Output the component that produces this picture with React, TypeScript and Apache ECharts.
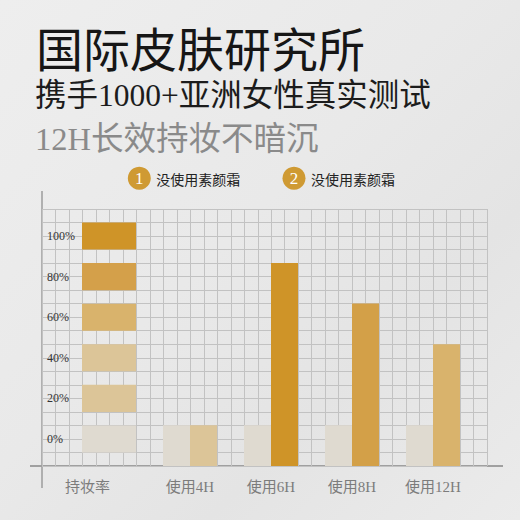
import React, { useEffect, useRef } from 'react';
import * as echarts from 'echarts';

// ---------- data ----------
const categories = ['持妆率', '使用4H', '使用6H', '使用8H', '使用12H'];
// percent values (0% level label reads as the middle of the bottom block)
const noCreamValues: (number | null)[] = [null, 6.7, 6.7, 6.7, 6.7];
const creamValues: (number | null)[] = [null, 6.7, 86.7, 66.7, 46.7];
const scaleLevels = [0, 20, 40, 60, 80, 100];
const legendNames = ['没使用素颜霜', '没使用素颜霜'];
const legendMarks = ['1', '2'];
const titleLines = ['国际皮肤研究所', '携手1000+亚洲女性真实测试', '12H长效持妆不暗沉'];

// ---------- styles ----------
const scaleColors = ['#DFDAD0', '#DCC598', '#DCC598', '#D9B36C', '#D4A04A', '#CF9428'];
const noCreamColor = '#DFDAD0';
const creamColors = ['#DCC598', '#DCC598', '#CF9428', '#D3A048', '#D9B36C'];
const CJK = "'Noto Sans CJK SC', sans-serif";
const SERIF = "'Liberation Serif', 'Noto Sans CJK SC', serif";

// one paper cell = 20/3 percent, 0% sits two cells above the baseline
const toCell = (p: number) => (p * 3) / 20 + 2;

export default function App() {
  const ref = useRef<HTMLDivElement>(null);

  useEffect(() => {
    if (!ref.current) return;
    const chart = echarts.init(ref.current, undefined, { renderer: 'svg' });

    const option: any = {
      animation: false,
      backgroundColor: 'transparent',
      grid: [
        { left: 42, right: 33, top: 209, bottom: 54 },
        { left: 68.5, width: 405, top: 209, bottom: 54 },
      ],
      xAxis: [
        {
          gridIndex: 0,
          type: 'value',
          min: 0,
          max: 33,
          interval: 1,
          axisLine: { show: false },
          axisTick: { show: false },
          axisLabel: { show: false },
          splitLine: { show: true, lineStyle: { color: '#c2c2c2', width: 1 } },
        },
        {
          gridIndex: 1,
          type: 'category',
          data: categories.map((c, i) =>
            i === 0 ? { value: c, textStyle: { padding: [0, 43, 0, 0] } } : c
          ),
          axisLine: { show: false },
          axisTick: { show: false },
          axisLabel: { color: '#7c7c7c', fontSize: 15, fontFamily: SERIF, margin: 13 },
        },
      ],
      yAxis: [
        {
          gridIndex: 0,
          type: 'value',
          min: 0,
          max: 19,
          interval: 1,
          axisLine: { show: false },
          axisTick: { show: false },
          axisLabel: {
            inside: true,
            margin: 5,
            color: '#333',
            fontSize: 12,
            fontFamily: SERIF,
            formatter: (v: number) => {
              const p = Math.round(((v - 2) * 20) / 3);
              return v >= 2 && Math.round(v - 2) % 3 === 0 && scaleLevels.includes(p) ? p + '%' : '';
            },
          },
          splitLine: { show: true, lineStyle: { color: '#c2c2c2', width: 1 } },
        },
        {
          gridIndex: 1,
          type: 'value',
          min: 0,
          max: 19,
          show: false,
        },
      ],
      series: [
        {
          type: 'custom',
          name: '持妆率',
          xAxisIndex: 1,
          yAxisIndex: 1,
          data: scaleLevels.map((l) => [0, toCell(l) - 1, toCell(l) + 1]),
          encode: { x: 0, y: [1, 2] },
          renderItem: (params: any, api: any) => {
            const lo = api.coord([api.value(0), api.value(1)]);
            const hi = api.coord([api.value(0), api.value(2)]);
            const bw = (api.size([1, 0])[0] * 2) / 3;
            return {
              type: 'rect',
              shape: { x: lo[0] - bw / 2, y: hi[1], width: bw, height: lo[1] - hi[1] },
              style: { fill: scaleColors[params.dataIndex] },
            };
          },
        },
        {
          type: 'bar',
          name: legendNames[0],
          xAxisIndex: 1,
          yAxisIndex: 1,
          barWidth: 27,
          barGap: '0%',
          itemStyle: { color: noCreamColor },
          data: noCreamValues.map((v) => (v == null ? '-' : toCell(v))),
        },
        {
          type: 'bar',
          name: legendNames[1],
          xAxisIndex: 1,
          yAxisIndex: 1,
          barWidth: 27,
          barGap: '0%',
          data: creamValues.map((v, i) =>
            v == null ? '-' : { value: toCell(v), itemStyle: { color: creamColors[i] } }
          ),
        },
      ],
      graphic: [
        {
          type: 'text',
          left: 36,
          top: 23,
          style: {
            text: titleLines[0],
            fontSize: 47,
            lineHeight: 47,
            fontFamily: CJK,
            fill: '#161616',
            fontWeight: 'normal',
          },
        },
        {
          type: 'text',
          left: 35,
          top: 79,
          style: {
            text: titleLines[1],
            fontSize: 31.5,
            lineHeight: 32,
            fontFamily: SERIF,
            fill: '#1c1c1c',
            fontWeight: 'normal',
          },
        },
        {
          type: 'text',
          left: 35,
          top: 122,
          style: {
            text: titleLines[2],
            fontSize: 32.5,
            lineHeight: 33,
            fontFamily: SERIF,
            fill: '#8a8a8a',
            fontWeight: 'normal',
          },
        },
        ...legendNames.flatMap((name, i) => {
          const cx = i === 0 ? 139.3 : 294;
          return [
            { type: 'circle', shape: { cx, cy: 178.3, r: 11.5 }, style: { fill: '#CF9A33' } },
            {
              type: 'text',
              x: cx,
              y: 178.5,
              style: {
                text: legendMarks[i],
                fontSize: 17,
                fontFamily: SERIF,
                fill: '#fff',
                align: 'center',
                verticalAlign: 'middle',
              },
            },
            {
              type: 'text',
              x: cx + 17,
              y: 178.5,
              style: {
                text: name,
                fontSize: 14,
                fontFamily: CJK,
                fill: '#222',
                verticalAlign: 'middle',
              },
            },
          ];
        }),
        {
          type: 'line',
          shape: { x1: 42, y1: 191, x2: 42, y2: 488 },
          style: { stroke: '#9c9c9c', lineWidth: 1.5 },
        },
        {
          type: 'line',
          shape: { x1: 30, y1: 466, x2: 503, y2: 466 },
          style: { stroke: '#a0a0a0', lineWidth: 2 },
        },
      ],
    };

    chart.setOption(option);
    return () => chart.dispose();
  }, []);

  return (
    <div
      ref={ref}
      style={{
        position: 'fixed',
        left: 0,
        top: 0,
        width: 520,
        height: 520,
        background: 'linear-gradient(135deg, #eeeeee 0%, #e9e9e9 45%, #e4e4e4 70%, #ebebeb 100%)',
      }}
    />
  );
}
